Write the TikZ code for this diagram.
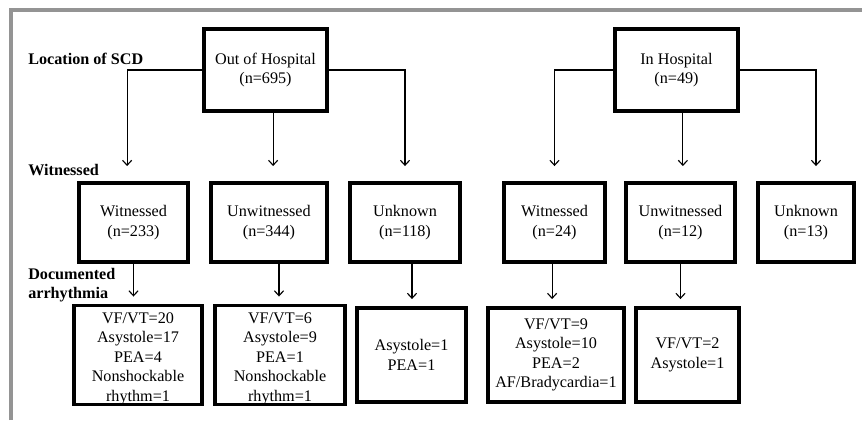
\documentclass[tikz,border=0pt]{standalone}
\usepackage{fontspec}
\setmainfont{Liberation Serif}
\usetikzlibrary{arrows.meta,calc}

\begin{document}
\begin{tikzpicture}[
	box/.style = {draw, line width=2.5pt, inner sep=0pt, align=center, font=\fontsize{11.5}{13.9}\selectfont},
	lbl/.style = {anchor=west, align=left, inner sep=0pt, font=\fontsize{11.5}{13.9}\selectfont\bfseries},
	arr/.style = {line width=0.8pt, -{Straight Barb[length=3.5pt,width=6.5pt]}}]
	\useasboundingbox (0,0) rectangle (21.55,-10.5);
	\draw[black!42, line width=2.85pt] (0.275,-10.5) -- (0.275,-0.25) -- (21.55,-0.25);
	% row labels
	\node[lbl] (L1) at (0.7,-1.475) {Location of SCD};
	\node[lbl] (L2) at (0.7,-4.25) {Witnessed};
	\node[lbl] (L3) at (0.7,-7.125) {Documented\\arrhythmia};
	% location
	\node[box, minimum width=3.085cm, minimum height=2.06cm] (OH) at (6.6375,-1.75) {Out of Hospital\\(n=695)};
	\node[box, minimum width=3.085cm, minimum height=2.06cm] (IH) at (16.9125,-1.75) {In Hospital\\(n=49)};
	% witnessed
	\node[box, minimum width=2.735cm, minimum height=1.985cm] (W1) at (3.3375,-5.5625) {Witnessed\\(n=233)};
	\node[box, minimum width=2.91cm, minimum height=1.985cm] (U1) at (6.725,-5.5625) {Unwitnessed\\(n=344)};
	\node[box, minimum width=2.76cm, minimum height=1.985cm] (K1) at (10.125,-5.5625) {Unknown\\(n=118)};
	\node[box, minimum width=2.535cm, minimum height=1.985cm] (W2) at (13.8625,-5.5625) {Witnessed\\(n=24)};
	\node[box, minimum width=2.735cm, minimum height=1.985cm] (U2) at (17.0125,-5.5625) {Unwitnessed\\(n=12)};
	\node[box, minimum width=2.41cm, minimum height=1.985cm] (K2) at (20.15,-5.5625) {Unknown\\(n=13)};
	% documented arrhythmia
	\node[box, minimum width=3.21cm, minimum height=2.36cm] (D1) at (3.45,-8.875) {\rule{0pt}{1.1em}VF/VT=20\\Asystole=17\\PEA=4\\Nonshockable\\rhythm=1};
	\node[box, minimum width=3.26cm, minimum height=2.36cm] (D2) at (7.0,-8.875) {\rule{0pt}{1.1em}VF/VT=6\\Asystole=9\\PEA=1\\Nonshockable\\rhythm=1};
	\node[box, minimum width=2.735cm, minimum height=2.36cm] (D3) at (10.2875,-8.875) {Asystole=1\\PEA=1};
	\node[box, minimum width=3.41cm, minimum height=2.36cm] (D4) at (13.9,-8.875) {VF/VT=9\\Asystole=10\\PEA=2\\AF/Bradycardia=1};
	\node[box, minimum width=2.585cm, minimum height=2.36cm] (D5) at (17.1875,-8.875) {VF/VT=2\\Asystole=1};
	% branches
	\draw[arr] (OH.west) -| ($(W1.north)+(-0.16,0.375)$);
	\draw[arr] (OH.east) -| ($(K1.north)+(0,0.375)$);
	\draw[arr] ($(OH.south)+(0.19,0)$) -- ($(OH.south |- U1.north)+(0.19,0.375)$);
	\draw[arr] (IH.west) -| ($(W2.north)+(0,0.375)$);
	\draw[arr] (IH.east) -| ($(K2.north)+(0.25,0.375)$);
	\draw[arr] ($(IH.south)+(0.16,0)$) -- ($(IH.south |- U2.north)+(0.16,0.375)$);
	\foreach \a/\b/\s in {W1/D1/0, U1/D2/0.25, K1/D3/0.175, W2/D4/-0.06, U2/D5/0}
		\draw[arr] ($(\a.south)+(\s,0)$) -- ($(\a.south |- \b.north)+(\s,0.175)$);
\end{tikzpicture}
\end{document}
